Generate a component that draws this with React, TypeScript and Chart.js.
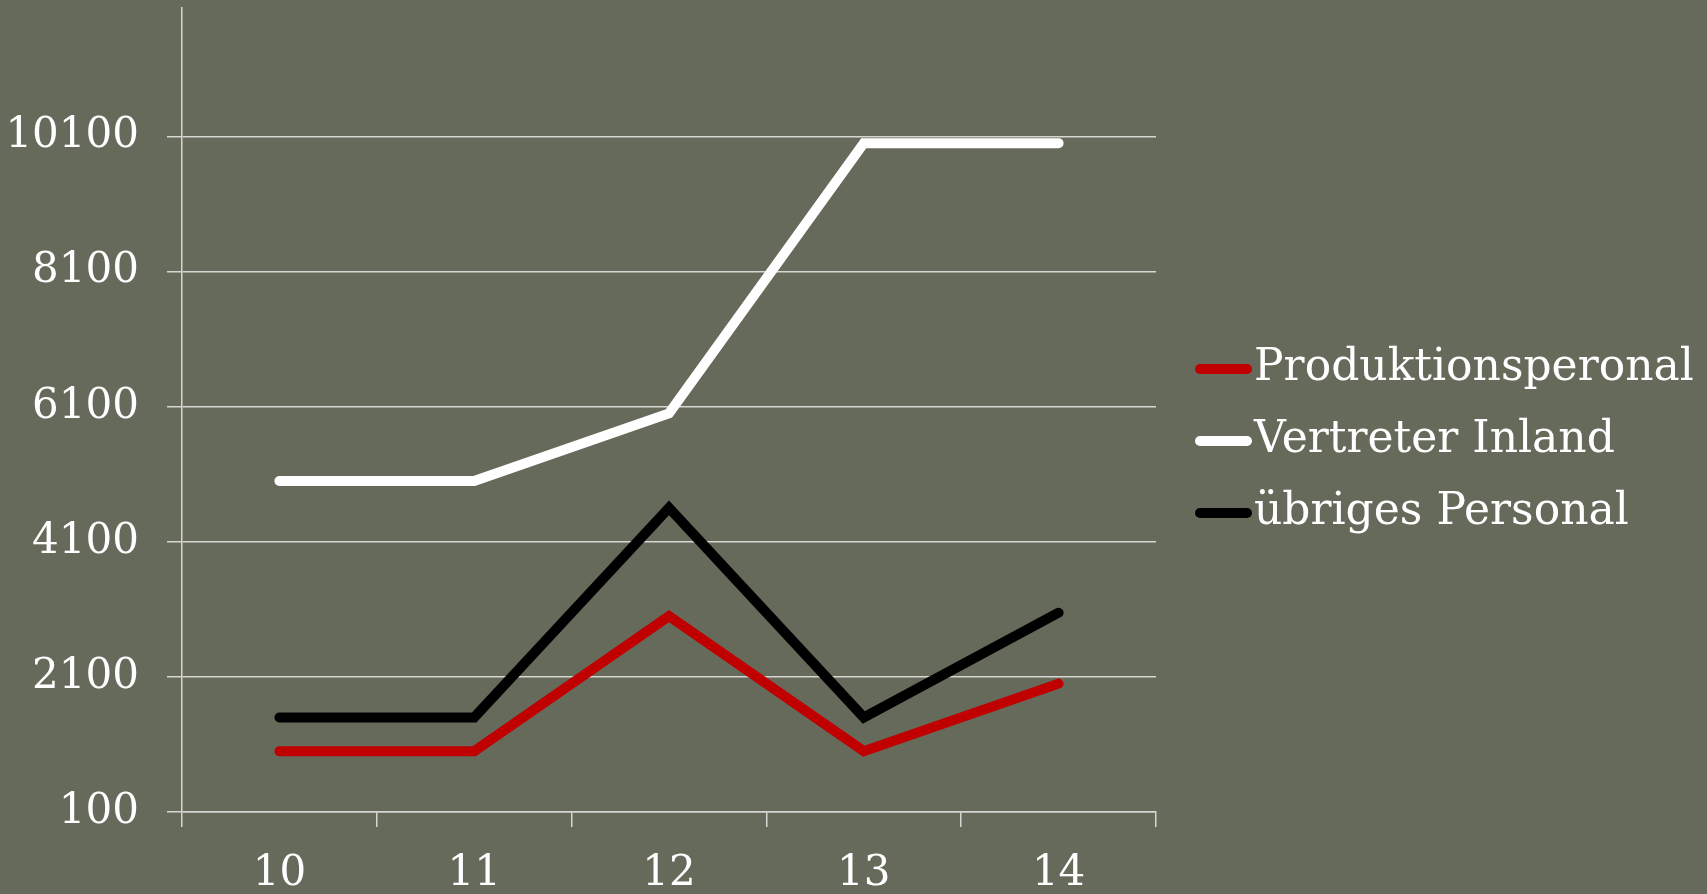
import React, { useEffect, useRef } from "react";
import { Chart, registerables } from "chart.js";

Chart.register(...registerables);

// ---- data ----
const categories = ["10", "11", "12", "13", "14"];
const produktionsperonal = [1000, 1000, 3000, 1000, 2000];
const vertreterInland = [5000, 5000, 6000, 10000, 10000];
const uebrigesPersonal = [1500, 1500, 4600, 1500, 3050];
const yTickValues = [100, 2100, 4100, 6100, 8100, 10100];
const seriesNames = ["Produktionsperonal", "Vertreter Inland", "übriges Personal"];
const seriesColors = ["#c00000", "#ffffff", "#000000"];

// ---- style ----
const FONT = "'DejaVu Serif', serif";
const BG = "#666a5b";
const GRID = "#d6d6d2";
const W = 1707;
const H = 894;

const sideLegend = {
  id: "sideLegend",
  afterDraw(chart: any) {
    const { ctx, chartArea } = chart;
    chart.data.datasets.forEach((ds: any, i: number) => {
      const y = 369 + i * 72;
      ctx.save();
      ctx.strokeStyle = ds.borderColor;
      ctx.lineWidth = ds.borderWidth;
      ctx.lineCap = "round";
      ctx.beginPath();
      ctx.moveTo(chartArea.right + 44, y);
      ctx.lineTo(chartArea.right + 91, y);
      ctx.stroke();
      ctx.fillStyle = "#ffffff";
      ctx.font = `44px ${FONT}`;
      ctx.textBaseline = "middle";
      ctx.textAlign = "left";
      ctx.fillText(ds.label, chartArea.right + 98, y);
      ctx.restore();
    });
  },
};

export default function App() {
  const ref = useRef<HTMLCanvasElement | null>(null);

  useEffect(() => {
    document.body.style.margin = "0";
    document.body.style.background = BG;
    const canvas = ref.current;
    if (!canvas) return;
    const seriesData = [produktionsperonal, vertreterInland, uebrigesPersonal];
    const chart = new Chart(canvas, {
      type: "line",
      data: {
        labels: categories,
        datasets: seriesNames.map((name, i) => ({
          label: name,
          data: seriesData[i],
          borderColor: seriesColors[i],
          backgroundColor: seriesColors[i],
          borderWidth: 10,
          borderCapStyle: "round" as const,
          borderJoinStyle: "miter" as const,
          pointRadius: 0,
          pointHoverRadius: 0,
          tension: 0,
          fill: false,
        })),
      },
      options: {
        responsive: false,
        animation: false,
        events: [],
        layout: { padding: { left: 0, top: 8, right: 551, bottom: 0 } },
        plugins: {
          legend: { display: false },
          tooltip: { enabled: false },
          title: { display: false },
        },
        scales: {
          x: {
            type: "category",
            offset: true,
            grid: {
              offset: true,
              drawOnChartArea: false,
              drawTicks: true,
              tickLength: 15,
              color: GRID,
              lineWidth: 1.5,
            },
            border: { display: true, color: GRID, width: 1.5 },
            ticks: {
              color: "#ffffff",
              font: { family: FONT, size: 42 },
              padding: 22,
              maxRotation: 0,
              autoSkip: false,
            },
            afterFit: (s: any) => {
              s.height = 82;
              s.paddingLeft = 0;
              s.paddingRight = 0;
            },
          },
          y: {
            min: 100,
            max: 12000,
            afterBuildTicks: (s: any) => {
              s.ticks = yTickValues.map((v) => ({ value: v }));
            },
            grid: {
              color: GRID,
              lineWidth: 1.5,
              tickLength: 15,
              drawTicks: true,
            },
            border: { display: true, color: GRID, width: 1.5 },
            ticks: {
              color: "#ffffff",
              font: { family: FONT, size: 42 },
              padding: 28,
              callback: (v: any) => String(v),
            },
            afterFit: (s: any) => {
              s.width = 182;
              s.paddingTop = 0;
              s.paddingBottom = 0;
            },
          },
        },
      },
      plugins: [sideLegend],
    });
    return () => chart.destroy();
  }, []);

  return (
    <div style={{ position: "fixed", left: 0, top: 0, width: W, height: H, background: BG }}>
      <canvas ref={ref} width={W} height={H} style={{ display: "block", width: W, height: H }} />
    </div>
  );
}
